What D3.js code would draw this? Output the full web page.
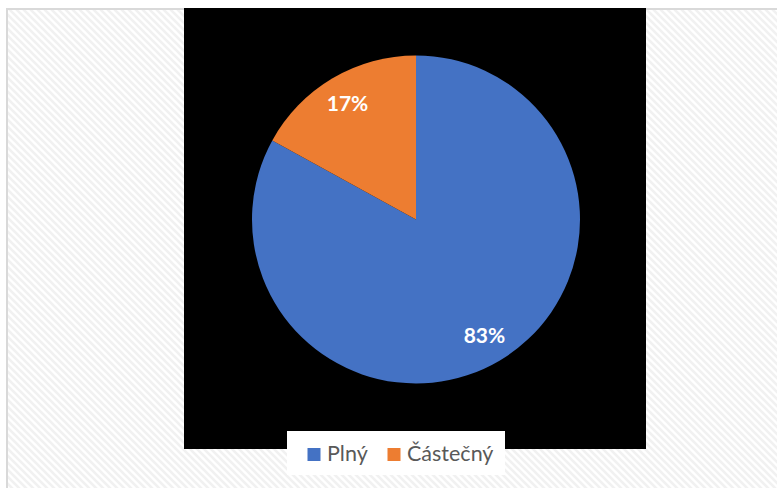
<!DOCTYPE html>
<html>
<head>
<meta charset="utf-8">
<script src="https://cdn.jsdelivr.net/npm/d3@7"></script>
<style>
  html, body { margin: 0; padding: 0; background: #ffffff; }
  svg { display: block; }
</style>
</head>
<body>
<svg id="chart" width="777" height="488"></svg>
<script>
// Share of coverage types
const categories = ["Plný", "Částečný"];
const values = [83, 17];
const colors = ["#4472C4", "#ED7D31"];

const W = 777, H = 488;
const svg = d3.select("#chart");

// Hatched chart-area background
const defs = svg.append("defs");
const pat = defs.append("pattern")
  .attr("id", "hatch")
  .attr("patternUnits", "userSpaceOnUse")
  .attr("width", 7).attr("height", 7);
pat.append("rect").attr("width", 7).attr("height", 7).attr("fill", "#ffffff");
pat.append("path")
  .attr("d", "M0,0 L7,7 M-2,5 L2,9 M5,-2 L9,2")
  .attr("stroke", "#f1f1f1")
  .attr("stroke-width", 2.6);

svg.append("rect").attr("x", 0).attr("y", 0).attr("width", W).attr("height", H).attr("fill", "#ffffff");
svg.append("rect")
  .attr("x", 7).attr("y", 9)
  .attr("width", W).attr("height", H)
  .attr("fill", "url(#hatch)")
  .attr("stroke", "#d9d9d9")
  .attr("stroke-width", 2);

// Plot area
const plot = { x0: 184, y0: 8, x1: 646, y1: 449 };
svg.append("rect")
  .attr("x", plot.x0).attr("y", plot.y0)
  .attr("width", plot.x1 - plot.x0).attr("height", plot.y1 - plot.y0)
  .attr("fill", "#000000");

// Pie
const cx = 416, cy = 219.5, r = 164;
const pie = d3.pie().sort(null).value(d => d.value);
const data = categories.map((c, i) => ({ name: c, value: values[i], color: colors[i] }));
const arcs = pie(data);
const arc = d3.arc().innerRadius(0).outerRadius(r);
const labelArc = d3.arc().innerRadius(r * 0.82).outerRadius(r * 0.82);
const total = d3.sum(values);

const g = svg.append("g").attr("transform", `translate(${cx},${cy})`);
g.selectAll("path.slice")
  .data(arcs)
  .join("path")
  .attr("class", "slice")
  .attr("d", arc)
  .attr("fill", d => d.data.color);

g.selectAll("text.lbl")
  .data(arcs)
  .join("text")
  .attr("class", "lbl")
  .attr("transform", d => `translate(${labelArc.centroid(d)})`)
  .attr("text-anchor", "middle")
  .attr("dy", "0.36em")
  .attr("fill", "#ffffff")
  .attr("font-family", "Lato, 'Open Sans', sans-serif")
  .attr("font-weight", "bold")
  .attr("font-size", 21)
  .text(d => Math.round(d.data.value / total * 100) + "%");

// Legend
const leg = svg.append("g");
leg.append("rect")
  .attr("x", 287).attr("y", 431)
  .attr("width", 218).attr("height", 44)
  .attr("fill", "#ffffff");

const legItems = [
  { x: 307.5, tx: 327 },
  { x: 387.5, tx: 407 }
];
data.forEach((d, i) => {
  leg.append("rect")
    .attr("x", legItems[i].x).attr("y", 448)
    .attr("width", 13).attr("height", 13)
    .attr("fill", d.color);
  leg.append("text")
    .attr("x", legItems[i].tx).attr("y", 461)
    .attr("fill", "#595959")
    .attr("font-family", "Lato, 'Open Sans', sans-serif")
    .attr("font-size", 21.5)
    .text(d.name);
});
</script>
</body>
</html>
